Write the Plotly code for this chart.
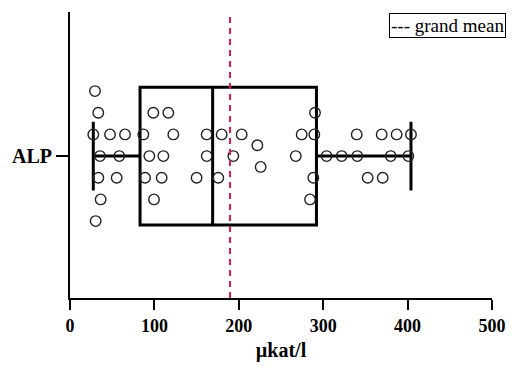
import plotly.graph_objects as go

# ---- data ----
alp_values = [
    29.6,
    33.5, 98.7, 116.5, 290.3,
    27.6, 47.4, 65.2, 86.9, 122.4, 161.9, 179.7, 203.4, 274.5, 289.5, 339.7, 369.3, 387, 404,
    222,
    35.5, 58.4, 94, 110.6, 162, 193.5, 267.5, 304, 321.9, 340.4, 380, 400.9,
    225.9,
    33.6, 55.3, 88.9, 108.6, 150, 175.7, 288.3, 352.7, 370.5,
    36.3, 99.5, 284.4,
    30.4,
]
# swarm row offsets (in marker rows) for each point
alp_rows = (
    [3]
    + [2] * 4
    + [1] * 14
    + [0.5]
    + [0] * 12
    + [-0.5]
    + [-1] * 9
    + [-2] * 3
    + [-3]
)
box_q1 = [83]
box_median = [169]
box_q3 = [292]
box_min = [27.6]
box_max = [404]
grand_mean = 189.6
category = "ALP"
x_ticks = [0, 100, 200, 300, 400, 500]

serif = "Liberation Serif, Times New Roman, serif"

fig = go.Figure()

fig.add_trace(go.Box(
    y=[0], orientation="h",
    q1=box_q1, median=box_median, q3=box_q3,
    lowerfence=box_min, upperfence=box_max,
    boxpoints=False, width=6.35, whiskerwidth=0.5,
    line=dict(color="black", width=3),
    fillcolor="rgba(0,0,0,0)",
    showlegend=False, hoverinfo="skip",
))

fig.add_trace(go.Scatter(
    x=alp_values, y=alp_rows, mode="markers",
    marker=dict(symbol="circle-open", size=10.5, color="#222222",
                line=dict(width=1.4)),
    showlegend=False,
))

fig.add_vline(x=grand_mean, line=dict(color="#e0194f", width=2, dash="6px,5px"))

fig.add_annotation(
    xref="paper", yref="paper", x=1.033, y=0.997,
    xanchor="right", yanchor="top",
    text="--- grand mean", showarrow=False,
    font=dict(family=serif, size=19, color="black"),
    bordercolor="black", borderwidth=1, borderpad=1, bgcolor="white",
)

fig.update_layout(
    width=512, height=371,
    margin=dict(l=70, r=20, t=12, b=73, autoexpand=False),
    plot_bgcolor="white", paper_bgcolor="white",
    showlegend=False,
    xaxis=dict(
        range=[0, 500], tickvals=x_ticks, automargin=False,
        showgrid=False, zeroline=False,
        showline=True, linecolor="black", linewidth=2,
        ticks="outside", ticklen=10, tickwidth=2, tickcolor="black",
        tickfont=dict(family=serif, size=18, color="black", weight="bold"),
        title=dict(text="µkat/l", font=dict(family=serif, size=20, color="black", weight="bold"), standoff=8),
    ),
    yaxis=dict(
        range=[-6.55, 6.65], tickvals=[0], ticktext=[category], automargin=False,
        showgrid=False, zeroline=False,
        showline=True, linecolor="black", linewidth=2,
        ticks="outside", ticklen=12, tickwidth=2, tickcolor="black",
        tickfont=dict(family=serif, size=20, color="black", weight="bold"),
    ),
)

fig.write_html("out.html", config={"displayModeBar": False},
               post_script="document.body.style.margin='0';")
